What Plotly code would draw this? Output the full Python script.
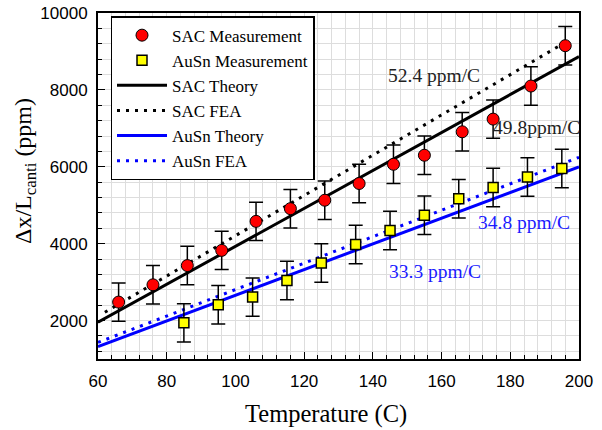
import plotly.graph_objects as go

# Measurements
sac_temp = [66, 76, 86, 96, 106, 116, 126, 136, 146, 155, 166, 175, 186, 196]
sac_val = [2480, 2930, 3430, 3825, 4580, 4910, 5130, 5565, 6065, 6300, 6910, 7240, 8100, 9150]
sac_err = [500] * len(sac_temp)

ausn_temp = [85, 95, 105, 115, 125, 135, 145, 155, 165, 175, 185, 195]
ausn_val = [1940, 2410, 2610, 3040, 3495, 3980, 4345, 4740, 5170, 5460, 5735, 5955]
ausn_err = [500] * len(ausn_temp)

# Theory / FEA lines (end points)
sac_theory_t = [60, 200]
sac_theory_v = [1956, 8866]
sac_fea_t = [62, 196]
sac_fea_v = [2215, 9235]
ausn_theory_t = [60, 200]
ausn_theory_v = [1325, 5995]
ausn_fea_t = [60, 200]
ausn_fea_v = [1430, 6245]

x_ticks = [60, 80, 100, 120, 140, 160, 180, 200]
y_ticks = [2000, 4000, 6000, 8000, 10000]
y_tick_text = ["2000", "4000", "6000", "8000", "10000"]

SERIF = "Liberation Serif"
SANS = "Liberation Sans"

fig = go.Figure()

fig.add_trace(go.Scatter(x=sac_theory_t, y=sac_theory_v, mode="lines", name="SAC Theory",
                         line=dict(color="black", width=3), legendrank=3))
fig.add_trace(go.Scatter(x=sac_fea_t, y=sac_fea_v, mode="lines", name="SAC FEA",
                         line=dict(color="black", width=3, dash="3px,6px"), legendrank=4))
fig.add_trace(go.Scatter(x=ausn_theory_t, y=ausn_theory_v, mode="lines", name="AuSn Theory",
                         line=dict(color="#0000ff", width=3), legendrank=5))
fig.add_trace(go.Scatter(x=ausn_fea_t, y=ausn_fea_v, mode="lines", name="AuSn FEA",
                         line=dict(color="#0000ff", width=3, dash="3px,6px"), legendrank=6))

fig.add_trace(go.Scatter(x=sac_temp, y=sac_val, mode="markers", name="SAC Measurement",
                         marker=dict(symbol="circle", size=12, color="#ff0000",
                                     line=dict(color="black", width=1)),
                         error_y=dict(type="data", array=sac_err, color="black",
                                      thickness=1.5, width=7),
                         legendrank=1))
fig.add_trace(go.Scatter(x=ausn_temp, y=ausn_val, mode="markers", name="AuSn Measurement",
                         marker=dict(symbol="square", size=10, color="#ffff00",
                                     line=dict(color="black", width=1.5)),
                         error_y=dict(type="data", array=ausn_err, color="black",
                                      thickness=1.5, width=7),
                         legendrank=2))

ann = [
    dict(x=157.8, y=8362, text="52.4 ppm/C", color="#222222"),
    dict(x=187.5, y=7014, text="49.8ppm/C", color="#222222"),
    dict(x=183.9, y=4563, text="34.8 ppm/C", color="#1a1aff"),
    dict(x=158.0, y=3285, text="33.3 ppm/C", color="#1a1aff"),
]
for a in ann:
    fig.add_annotation(x=a["x"], y=a["y"], xref="x", yref="y", text=a["text"],
                       showarrow=False, xanchor="center", yanchor="middle",
                       font=dict(family=SERIF, size=19.5, color=a["color"]))

# Axis titles (placed as annotations for exact position)
fig.add_annotation(x=-0.152, y=0.543, xref="paper", yref="paper",
                   text="Δx/L<sub>canti</sub> (ppm)", textangle=-90, showarrow=False,
                   xanchor="center", yanchor="middle",
                   font=dict(family=SERIF, size=24, color="black"))
fig.add_annotation(x=0.473, y=-0.159, xref="paper", yref="paper",
                   text="Temperature (C)", showarrow=False,
                   xanchor="center", yanchor="middle",
                   font=dict(family=SERIF, size=24.5, color="black"))

axis_common = dict(
    showline=True, linecolor="black", linewidth=2, mirror=True,
    ticks="inside", ticklen=7, tickwidth=1, tickcolor="black",
    showgrid=True, gridcolor="#dddddd", gridwidth=1,
    zeroline=False, automargin=False, ticklabeloverflow="allow",
    tickfont=dict(family=SANS, size=17, color="black"),
)

fig.update_xaxes(range=[60, 200], tickvals=x_ticks, ticklabelstandoff=6,
                 minor=dict(dtick=4, tick0=60, ticks="inside", ticklen=4, tickcolor="black",
                            showgrid=True, gridcolor="#dddddd", gridwidth=1),
                 **axis_common)
fig.update_yaxes(range=[1000, 10000], tickvals=y_ticks, ticktext=y_tick_text,
                 ticklabelstandoff=5,
                 minor=dict(dtick=400, tick0=2000, ticks="inside", ticklen=4, tickcolor="black",
                            showgrid=True, gridcolor="#dddddd", gridwidth=1),
                 **axis_common)

fig.update_layout(
    width=602, height=430,
    margin=dict(l=98, r=23, t=13, b=71),
    plot_bgcolor="white", paper_bgcolor="white",
    legend=dict(x=0.026, y=0.991, xanchor="left", yanchor="top",
                bgcolor="white", bordercolor="black", borderwidth=1.5,
                font=dict(family=SERIF, size=17, color="black"),
                itemwidth=50, tracegroupgap=0),
)

fig.write_html("out.html", config={"displayModeBar": False},
               post_script="document.body.style.margin='0';document.body.style.overflow='hidden';")
